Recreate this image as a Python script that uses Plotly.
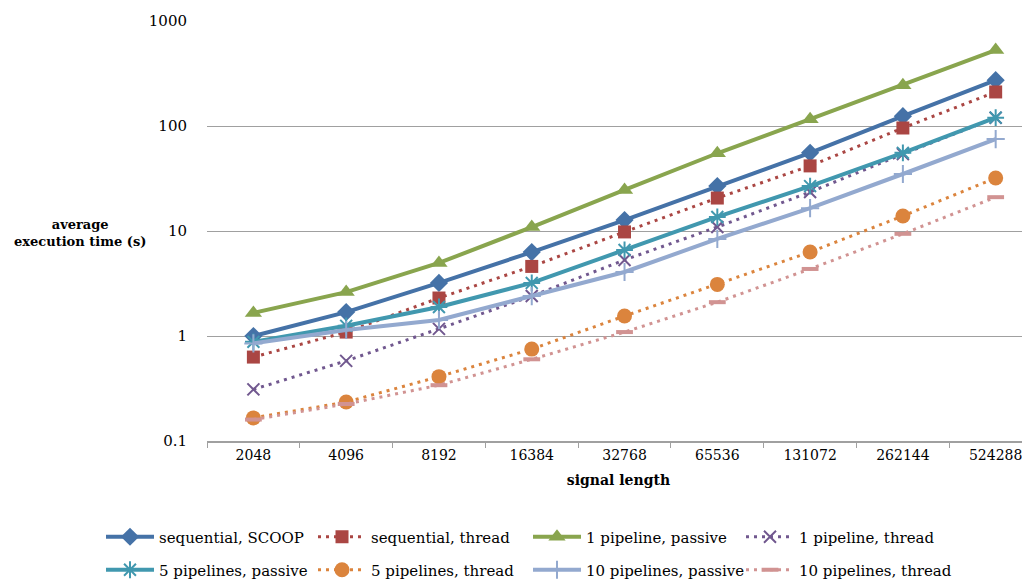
import plotly.graph_objects as go

categories = ["2048", "4096", "8192", "16384", "32768", "65536", "131072", "262144", "524288"]

seq_scoop = [1.0, 1.69, 3.2, 6.3, 12.7, 26.8, 55.5, 124, 273]
seq_thread = [0.63, 1.09, 2.3, 4.6, 9.8, 20.6, 41.7, 95.7, 211]
p1_passive = [1.66, 2.62, 4.96, 10.9, 24.6, 55, 116, 245, 529]
p1_thread = [0.31, 0.58, 1.17, 2.4, 5.3, 10.9, 23.5, 54, 120]
p5_passive = [0.88, 1.25, 1.89, 3.2, 6.6, 13.6, 26.8, 55.5, 120]
p5_thread = [0.166, 0.235, 0.41, 0.75, 1.55, 3.1, 6.3, 13.9, 32]
p10_passive = [0.85, 1.14, 1.42, 2.4, 4.07, 8.4, 16.5, 34.9, 75]
p10_thread = [0.16, 0.225, 0.34, 0.6, 1.09, 2.1, 4.35, 9.4, 21]

ytick_vals = [0.1, 1, 10, 100, 1000]
ytick_text = ["0.1", "1", "10", "100", "1000"]

series = [
    ("sequential, SCOOP", seq_scoop, "#4572A7", "solid", 4, dict(symbol="diamond", size=14)),
    ("sequential, thread", seq_thread, "#AA4643", "3px,5px", 3, dict(symbol="square", size=13)),
    ("1 pipeline, passive", p1_passive, "#89A54E", "solid", 4, dict(symbol="triangle-up", size=15)),
    ("1 pipeline, thread", p1_thread, "#71588F", "3px,5px", 3, dict(symbol="x-thin", size=12, line=dict(width=2, color="#71588F"))),
    ("5 pipelines, passive", p5_passive, "#4198AF", "solid", 4, dict(symbol="asterisk", size=14, line=dict(width=2, color="#4198AF"))),
    ("5 pipelines, thread", p5_thread, "#DB843D", "3px,5px", 3, dict(symbol="circle", size=15)),
    ("10 pipelines, passive", p10_passive, "#93A9CF", "solid", 4, dict(symbol="cross-thin", size=13, line=dict(width=2, color="#93A9CF"))),
    ("10 pipelines, thread", p10_thread, "#D19392", "3px,5px", 3, dict(symbol="line-ew", size=12, line=dict(width=4, color="#D19392"))),
]

# page is offset by the browser's 8px body margin
OFF = 8
W, H = 1030 - OFF, 581 - OFF
PLOT_L = 207 - OFF
PLOT_W = W - PLOT_L

fig = go.Figure()
legend_layouts = {}
col_x = [101, 313, 528, 741]
row_y = [537, 570]
font_family = "DejaVu Serif"
FS = 15
FS_X = 14
FS_TITLE = 13

for i, (name, vals, color, dash, w, mk) in enumerate(series):
    mk = dict(mk)
    mk["color"] = color
    lname = "legend" if i == 0 else f"legend{i + 1}"
    fig.add_trace(go.Scatter(
        x=categories, y=vals, name=name, mode="lines+markers",
        line=dict(color=color, width=w, dash=dash),
        marker=mk, legend=lname,
    ))
    lx = col_x[i % 4] - OFF
    ly = row_y[i // 4] - OFF
    legend_layouts[lname] = dict(
        orientation="h", xref="container", yref="container",
        x=lx / W, y=1 - ly / H, xanchor="left", yanchor="middle",
        itemwidth=48, font=dict(size=FS, family=font_family),
        bgcolor="rgba(0,0,0,0)", borderwidth=0,
    )

fig.update_layout(
    width=W, height=H,
    margin=dict(l=PLOT_L, r=0, t=21 - OFF, b=581 - 441, autoexpand=False),
    paper_bgcolor="white", plot_bgcolor="white",
    font=dict(family=font_family, size=FS, color="black"),
    showlegend=True,
    xaxis=dict(
        type="category", range=[-0.5, 8.37],
        showgrid=False, showline=True, linecolor="#A0A0A0", linewidth=1.5,
        ticks="outside", ticklen=5, tickcolor="#A0A0A0", tickson="boundaries",
        tickfont=dict(size=FS_X, family=font_family),
        title=dict(text="<b>signal length</b>", font=dict(size=14, family=font_family), standoff=14),
        zeroline=False,
    ),
    yaxis=dict(
        type="log", range=[-1, 3],
        tickvals=ytick_vals, ticktext=ytick_text,
        showgrid=True, gridcolor="#A0A0A0", gridwidth=1.3,
        showline=False, ticks="outside", ticklen=16, tickcolor="rgba(0,0,0,0)",
        tickfont=dict(size=FS, family=font_family), zeroline=False,
    ),
    annotations=[dict(
        text="<b>average<br>execution time (s)</b>", xref="paper", yref="paper",
        x=(80 - OFF - PLOT_L) / PLOT_W, y=(441 - 233) / 420, xanchor="center", yanchor="middle", showarrow=False,
        font=dict(size=FS_TITLE, family=font_family), align="center",
    )],
    **legend_layouts,
)

fig.write_html("out.html")
